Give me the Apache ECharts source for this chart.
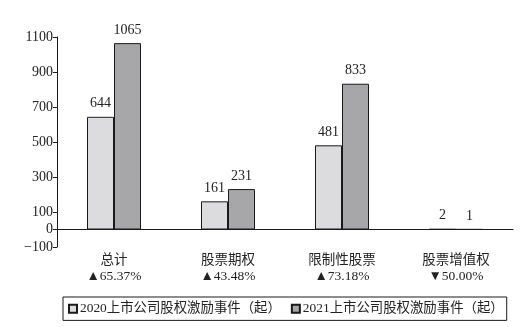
<!DOCTYPE html>
<html><head><meta charset="utf-8">
<script src="https://cdn.jsdelivr.net/npm/echarts@6/dist/echarts.min.js"></script>
<style>html,body{margin:0;padding:0;background:#fff}#c{width:528px;height:327px}</style>
</head><body><div id="c"></div>
<script>
const categories = ['总计', '股票期权', '限制性股票', '股票增值权'];
const changes = ['▲65.37%', '▲43.48%', '▲73.18%', '▼50.00%'];
const seriesNames = ['2020上市公司股权激励事件（起）', '2021上市公司股权激励事件（起）'];
const values2020 = [644, 161, 481, 2];
const values2021 = [1065, 231, 833, 1];
const yTicks = [-100, 0, 100, 300, 500, 700, 900, 1100];

const serif = '"Liberation Serif", "Noto Sans CJK SC", serif';
const cjk = '"Liberation Serif", "Noto Sans CJK SC", sans-serif';

const chart = echarts.init(document.getElementById('c'), null, {renderer: 'canvas'});
const mkSeries = (name, data, color) => ({
  name, type: 'bar', data, barWidth: 27, barGap: '0%',
  itemStyle: {color, borderColor: '#1a1a1a', borderWidth: 1},
  label: {show: true, position: 'top', distance: 6, fontFamily: serif, fontSize: 14, color: '#222'}
});
chart.setOption({
  animation: false,
  grid: {left: 57, right: 15, top: 37, bottom: 80},
  xAxis: {
    type: 'category', data: categories.map((c, i) => c + '\n' + changes[i]),
    axisLine: {onZero: true, lineStyle: {color: '#1a1a1a', width: 1}},
    axisTick: {inside: true, length: 5, lineStyle: {color: '#1a1a1a'}},
    axisLabel: {margin: 5, fontFamily: cjk, fontSize: 13.5, color: '#222', lineHeight: 16, interval: 0}
  },
  yAxis: {
    type: 'value', min: -100, max: 1100, interval: 100,
    axisLine: {show: true, lineStyle: {color: '#1a1a1a', width: 1}},
    axisTick: {show: true, length: 4, customValues: yTicks, lineStyle: {color: '#1a1a1a'}},
    axisLabel: {customValues: yTicks, fontFamily: serif, fontSize: 14, color: '#222', margin: 4,
      formatter: v => v < 0 ? '−' + Math.abs(v) : String(v)},
    splitLine: {show: false}
  },
  legend: {
    data: seriesNames, left: 63, top: 297,
    borderColor: '#1a1a1a', borderWidth: 1, padding: [5, 3, 5, 5],
    icon: 'rect', itemWidth: 8, itemHeight: 8, itemGap: 10,
    textStyle: {fontFamily: cjk, fontSize: 13.4, color: '#222', padding: [0, 0, 0, -2]}
  },
  series: [mkSeries(seriesNames[0], values2020, '#dcdcde'), mkSeries(seriesNames[1], values2021, '#a7a7aa')]
});
</script></body></html>
